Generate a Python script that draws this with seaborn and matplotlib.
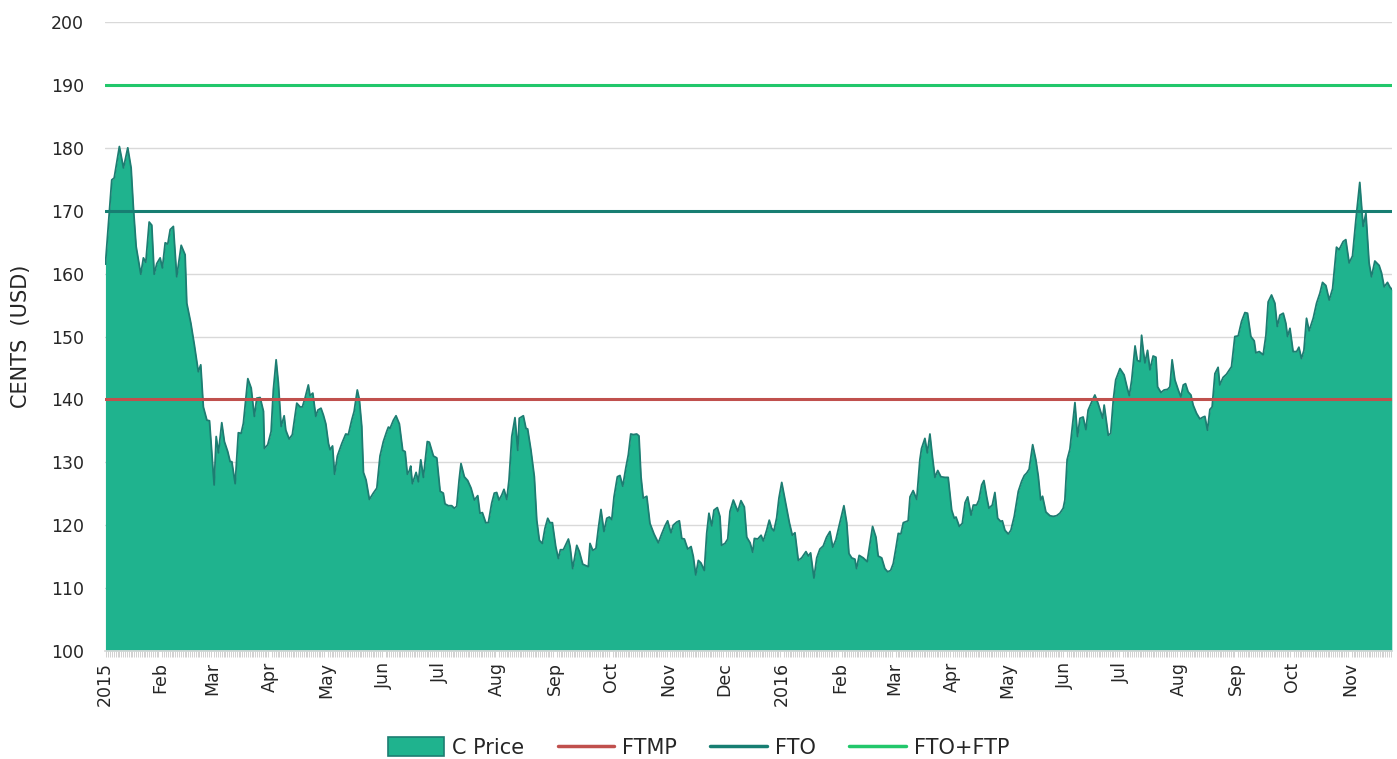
import matplotlib
matplotlib.use("Agg")
import matplotlib.pyplot as plt
import matplotlib.dates as mdates
from matplotlib.patches import Patch
from matplotlib.lines import Line2D
import pandas as pd
import seaborn as sns

# days after 2015-01-01 and C price (cents)
day = [1.5, 4.9, 6.2, 9.0, 11.2, 13.5, 15.3, 16.5, 18.0, 20.5, 21.9, 23.2, 25.0, 26.4, 27.7, 29.1,
       30.9, 32.1, 33.6, 35.0, 36.3, 38.0, 39.8, 42.2, 44.3, 45.2, 47.4, 49.3, 51.4, 52.7, 54.1,
       56.0, 57.4, 59.9, 61.0, 62.2, 64.0, 65.4, 67.2, 68.5, 69.4, 71.2, 72.9, 74.4, 75.6, 78.0,
       79.8, 81.5, 82.8, 84.6, 86.4, 86.9, 88.7, 90.5, 91.7, 93.2, 94.4, 95.9, 97.5, 98.4, 100.2,
       101.9, 104.3, 106.1, 107.3, 108.8, 110.5, 111.4, 112.9, 114.5, 115.6, 117.3, 118.6, 119.9,
       121.3, 122.2, 123.5, 124.6, 126.1, 128.5, 130.6, 132.0, 133.8, 135.1, 136.8, 137.9, 139.2,
       140.1, 141.5, 143.3, 145.4, 147.3, 149.0, 150.8, 152.6, 153.5, 154.4, 156.2, 157.6, 159.4,
       161.2, 162.5, 163.7, 164.8, 165.5, 166.4, 168.4, 169.6, 170.9, 172.3, 174.4, 175.5, 177.7,
       179.5, 181.3, 183.0, 183.9, 185.7, 187.5, 188.9, 190.2, 191.5, 192.5, 194.3, 196.1, 197.9,
       199.7, 201.5, 202.7, 204.0, 205.8, 207.2, 209.0, 210.4, 211.7, 212.9, 214.4, 215.6, 217.1,
       218.3, 219.8, 221.5, 223.0, 223.8, 226.0, 227.4, 228.3, 230.1, 231.9, 233.2, 234.6, 236.2,
       237.6, 239.1, 240.3, 241.6, 243.4, 244.8, 245.9, 247.5, 250.2, 251.1, 252.5, 254.7, 256.1,
       257.9, 260.9, 261.8, 263.3, 265.0, 266.3, 267.7, 269.3, 270.8, 272.2, 273.5, 274.7, 276.5,
       277.9, 279.4, 281.1, 282.4, 283.7, 285.1, 286.9, 288.1, 289.2, 290.4, 292.3, 294.0, 296.2,
       298.5, 300.3, 302.1, 303.5, 305.3, 306.5, 308.4, 309.8, 311.1, 312.5, 314.3, 316.1, 317.3,
       318.6, 320.0, 321.4, 323.2, 324.5, 325.7, 327.2, 328.4, 330.2, 331.6, 332.5, 334.3, 335.8,
       337.0, 338.8, 341.2, 342.9, 344.7, 346.0, 347.8, 349.2, 350.1, 351.9, 353.7, 354.9, 356.7,
       358.1, 359.4, 360.6, 362.1, 363.3, 364.8, 367.1, 368.9, 370.5, 371.9, 373.7, 375.5, 377.8,
       379.1, 380.3, 382.1, 383.6, 385.3, 387.1, 388.9, 390.7, 392.2, 393.9, 395.7, 398.2, 399.7,
       400.9, 402.4, 404.1, 405.0, 406.4, 408.6, 410.7, 412.2, 413.6, 415.4, 416.6, 418.5, 420.2,
       421.7, 423.3, 424.7, 426.1, 427.4, 428.8, 430.1, 432.7, 433.7, 435.4, 437.3, 439.0, 439.9,
       441.7, 443.0, 444.4, 445.7, 447.1, 448.6, 450.3, 452.5, 454.2, 456.1, 457.5, 458.4, 460.2,
       461.8, 463.3, 464.7, 466.5, 467.7, 469.5, 470.7, 472.2, 473.4, 474.9, 476.1, 477.9, 479.3,
       480.8, 482.4, 483.3, 484.7, 486.5, 487.9, 489.7, 491.9, 493.7, 495.1, 496.4, 497.7, 499.6,
       501.3, 502.6, 503.9, 504.9, 506.7, 508.9, 510.6, 512.4, 514.2, 516.0, 516.9, 518.1, 519.6,
       522.3, 523.7, 525.0, 526.7, 528.2, 529.4, 531.3, 533.0, 534.8, 537.2, 538.0, 540.2, 541.5,
       542.9, 544.2, 546.5, 548.7, 550.4, 551.5, 552.8, 554.6, 555.8, 557.3, 558.1, 559.0, 559.9,
       561.3, 562.6, 564.3, 565.8, 566.7, 568.5, 570.2, 572.1, 573.3, 574.5, 576.0, 577.8, 579.2,
       580.5, 581.7, 583.1, 584.6, 585.8, 587.6, 589.4, 591.2, 592.1, 593.5, 594.8, 596.0, 597.5,
       599.2, 600.1, 601.9, 603.7, 606.4, 608.2, 610.0, 611.8, 613.6, 615.0, 616.8, 618.6, 619.5,
       621.3, 623.4, 624.9, 626.1, 627.9, 629.7, 631.0, 632.4, 634.2, 635.6, 636.5, 637.8, 639.5,
       641.4, 642.6, 644.0, 645.3, 646.7, 648.1, 650.3, 652.1, 653.9, 655.3, 657.1, 658.9, 660.7,
       662.8, 664.2, 666.4, 667.8, 669.6, 671.4, 673.2, 675.3, 677.1, 678.6, 680.3, 681.6, 683.4,
       685.7, 687.0, 688.4, 690.2, 691.4, 692.5]
price = [161.5, 174.9, 175.2, 180.2, 176.8, 180.0, 176.8, 170.6, 164.3, 159.9, 162.5, 161.8, 168.2,
         167.7, 159.9, 161.6, 162.5, 160.9, 164.9, 164.7, 167.0, 167.5, 159.5, 164.5, 163.0, 155.3,
         152.1, 148.6, 144.4, 145.5, 138.8, 136.7, 136.6, 126.4, 134.1, 131.5, 136.3, 133.3, 131.7,
         130.1, 130.1, 126.6, 134.7, 134.6, 136.2, 143.3, 141.8, 137.3, 140.2, 140.3, 138.1, 132.2,
         132.8, 134.9, 141.5, 146.3, 142.6, 135.7, 137.4, 135.1, 133.7, 134.4, 139.4, 138.8, 138.8,
         140.3, 142.3, 140.6, 141.0, 137.3, 138.3, 138.6, 137.5, 136.1, 133.0, 132.0, 132.6, 128.1,
         131.0, 133.0, 134.5, 134.4, 136.7, 138.1, 141.5, 140.0, 135.7, 128.4, 127.2, 124.1, 125.1,
         125.9, 131.0, 133.3, 134.9, 135.6, 135.4, 136.7, 137.4, 136.1, 131.9, 131.7, 128.1, 128.7,
         129.4, 126.6, 128.4, 126.9, 130.4, 127.6, 133.3, 133.2, 131.0, 130.7, 125.4, 125.1, 123.4,
         123.1, 123.1, 122.7, 123.0, 127.2, 129.8, 127.7, 127.1, 125.9, 124.0, 124.7, 121.9, 122.0,
         120.4, 120.4, 123.5, 125.1, 125.2, 124.0, 124.8, 125.7, 124.1, 127.2, 134.1, 137.1, 131.9,
         137.0, 137.4, 135.4, 135.3, 131.9, 127.7, 120.8, 117.6, 117.1, 119.5, 121.1, 120.4, 120.4,
         116.6, 114.7, 116.1, 116.1, 117.8, 116.6, 113.1, 116.8, 115.8, 113.8, 113.4, 117.1, 116.0,
         116.3, 119.5, 122.5, 119.0, 121.1, 121.3, 120.9, 124.5, 127.7, 127.9, 126.2, 129.2, 131.2,
         134.5, 134.4, 134.5, 134.2, 127.7, 124.3, 124.6, 120.3, 118.6, 117.2, 118.6, 119.9, 120.7,
         118.8, 120.0, 120.5, 120.7, 117.9, 117.8, 116.2, 116.6, 115.0, 112.1, 114.4, 114.0, 112.8,
         118.7, 121.9, 119.9, 122.4, 122.8, 121.4, 116.8, 117.1, 117.8, 122.2, 124.0, 122.2, 123.9,
         122.9, 118.1, 117.2, 115.7, 117.9, 117.8, 118.4, 117.5, 119.2, 120.8, 119.5, 119.1, 121.2,
         124.3, 126.8, 123.2, 120.4, 118.4, 118.8, 114.4, 114.8, 115.8, 115.1, 115.6, 111.6, 114.8,
         116.2, 116.7, 118.1, 119.0, 116.5, 117.7, 120.0, 123.1, 120.4, 115.5, 114.8, 114.6, 113.1,
         115.2, 114.8, 114.2, 117.1, 119.8, 118.1, 115.1, 114.8, 113.1, 112.6, 112.8, 113.9, 116.3,
         118.7, 118.6, 120.4, 120.7, 124.5, 125.5, 124.1, 130.4, 132.2, 133.8, 131.5, 134.5, 131.0,
         127.6, 128.7, 127.7, 127.6, 127.6, 122.4, 121.1, 121.3, 119.8, 120.3, 123.6, 124.5, 121.6,
         123.2, 123.2, 124.0, 126.4, 127.1, 124.5, 122.7, 123.2, 125.2, 121.1, 120.6, 120.7, 119.2,
         118.6, 119.2, 121.4, 125.4, 127.0, 127.9, 128.3, 128.9, 132.8, 130.4, 127.8, 124.0, 124.6,
         122.1, 121.5, 121.4, 121.5, 121.9, 122.7, 124.0, 130.4, 132.1, 139.5, 134.1, 137.0, 137.2,
         135.2, 138.3, 139.6, 140.7, 139.3, 137.0, 139.1, 134.3, 134.6, 139.9, 143.1, 144.9, 143.9,
         141.8, 140.6, 143.1, 148.5, 146.2, 146.0, 150.2, 147.8, 145.8, 147.8, 144.7, 146.9, 146.7,
         142.0, 141.1, 141.5, 141.6, 142.0, 146.3, 143.1, 141.5, 140.4, 142.3, 142.5, 141.2, 140.7,
         139.1, 137.8, 136.9, 137.2, 137.3, 135.1, 138.4, 138.8, 144.1, 145.1, 142.3, 143.5, 144.0,
         145.2, 150.0, 150.1, 152.4, 153.8, 153.7, 150.0, 149.3, 147.4, 147.6, 147.1, 150.2, 155.5,
         156.6, 155.3, 151.6, 153.4, 153.7, 152.1, 150.0, 151.3, 147.6, 147.6, 148.3, 146.5, 147.8,
         152.9, 150.9, 152.9, 155.3, 156.9, 158.6, 158.1, 155.8, 157.6, 164.2, 163.8, 165.1, 165.4,
         161.7, 162.8, 168.5, 174.5, 167.5, 169.6, 161.7, 159.5, 162.0, 161.3, 160.1, 157.9, 158.6,
         157.9, 157.5]

ftmp = 140
fto = 170
fto_ftp = 190

tick_labels = ["2015", "Feb", "Mar", "Apr", "May", "Jun", "Jul", "Aug", "Sep", "Oct", "Nov", "Dec",
               "2016", "Feb", "Mar", "Apr", "May", "Jun", "Jul", "Aug", "Sep", "Oct", "Nov"]

base = pd.Timestamp("2015-01-01")
df = pd.DataFrame({"date": base + pd.to_timedelta(day, unit="D"), "price": price})

sns.set_theme(style="white")
plt.rcParams["font.family"] = ["DejaVu Sans"]

fill_c = "#1fb38e"
edge_c = "#1d7d72"
red_c = "#c0504d"
teal_c = "#177e72"
green_c = "#22c76b"

fig = plt.figure(figsize=(13.97, 7.59), dpi=100)
ax = fig.add_axes([0.0752, 0.1423, 0.9212, 0.8287])

x0 = base + pd.Timedelta(days=1.3)
x1 = base + pd.Timedelta(days=692.6)

ax.fill_between(df["date"], 100, df["price"], color=fill_c, linewidth=0, zorder=2)
sns.lineplot(data=df, x="date", y="price", ax=ax, color=edge_c, linewidth=1.3, zorder=3)
for val, col in [(ftmp, red_c), (fto, teal_c), (fto_ftp, green_c)]:
    ax.plot([x0, x1], [val, val], color=col, linewidth=2.2, zorder=4)

ax.set_xlim(x0, x1)
ax.set_ylim(100, 200)
ax.set_yticks(range(100, 201, 10))
ax.yaxis.grid(True, color="#d9d9d9", linewidth=1)
ax.set_axisbelow(True)

ticks = [x0] + list(pd.date_range("2015-02-01", "2016-11-01", freq="MS"))
ax.set_xticks(ticks)
ax.set_xticklabels(tick_labels, rotation=90)
ax.xaxis.set_minor_locator(mdates.DayLocator())
ax.tick_params(axis="x", which="minor", bottom=True, length=4, width=0.5, color="#bfbfbf")
ax.tick_params(axis="x", which="major", bottom=True, length=0, pad=8, labelsize=12.5, colors="#262626")
ax.tick_params(axis="y", length=0, labelsize=12.5, colors="#262626", pad=39)
for lab in ax.get_yticklabels():
    lab.set_horizontalalignment("left")

for s in ["top", "right", "left"]:
    ax.spines[s].set_visible(False)
ax.spines["bottom"].set_color("#d9d9d9")

ax.set_xlabel("")
ax.set_ylabel("CENTS  (USD)", fontsize=15, color="#262626", labelpad=14)

handles = [Patch(facecolor=fill_c, edgecolor=edge_c, linewidth=1.2),
           Line2D([], [], color=red_c, linewidth=2.5),
           Line2D([], [], color=teal_c, linewidth=2.5),
           Line2D([], [], color=green_c, linewidth=2.5)]
fig.legend(handles, ["C Price", "FTMP", "FTO", "FTO+FTP"], loc="center",
           bbox_to_anchor=(0.5, 0.015), ncol=4, frameon=False, fontsize=15,
           handlelength=2.7, handleheight=1.0, columnspacing=1.6, handletextpad=0.4)

fig.savefig("out.png", dpi=100)
